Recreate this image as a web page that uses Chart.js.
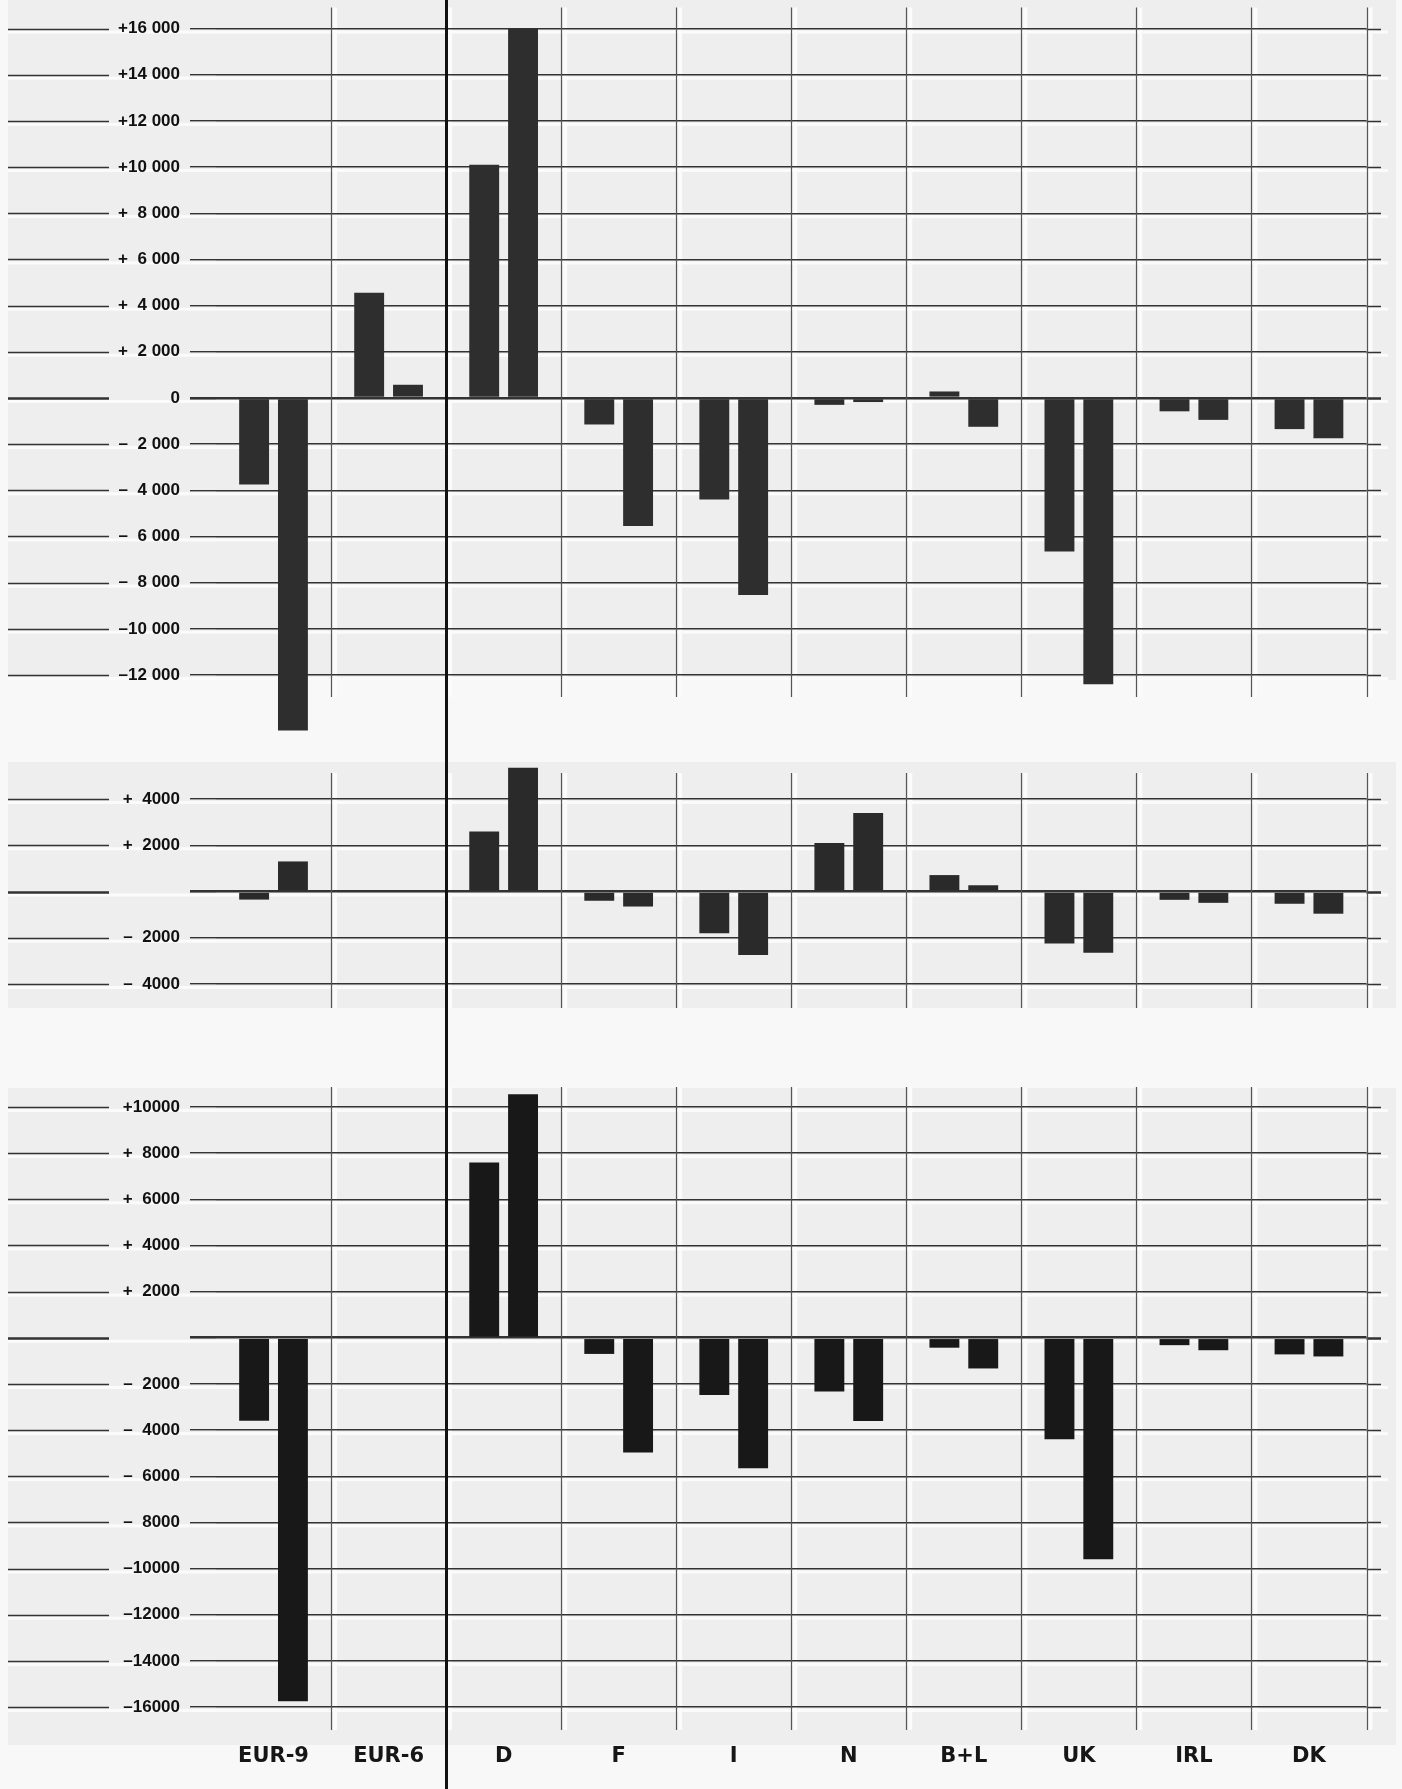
<!DOCTYPE html>
<html lang="en">
<head>
    <meta charset="UTF-8">
    <title>Balances by country</title>
    <script src="https://cdn.jsdelivr.net/npm/chart.js@4.4.1/dist/chart.umd.min.js"></script>
    <style>
        html, body { margin: 0; padding: 0; background: #f8f8f8; }
        #wrap { position: relative; width: 1402px; height: 1789px; }
        canvas { position: absolute; left: 0; }
    </style>
</head>
<body>
<div id="wrap">
    <canvas id="topChart" width="1402" height="740" style="top:0"></canvas>
    <canvas id="midChart" width="1402" height="310" style="top:740px"></canvas>
    <canvas id="botChart" width="1402" height="739" style="top:1050px"></canvas>
</div>

<script>
    // categories along the bottom
    const categories = ['EUR-9', 'EUR-6', 'D', 'F', 'I', 'N', 'B+L', 'UK', 'IRL', 'DK'];

    // top panel (two bars per country)
    const topFirst  = [-3750, 4550, 10100, -1150, -4400, -300, 280, -6650, -580, -1350];
    const topSecond = [-14400, 570, 16000, -5550, -8530, -180, -1250, -12400, -950, -1750];

    // middle panel
    const midFirst  = [-350, null, 2600, -400, -1800, 2100, 710, -2250, -360, -530];
    const midSecond = [1300, null, 5350, -650, -2750, 3400, 270, -2650, -490, -960];

    // bottom panel
    const botFirst  = [-3600, null, 7600, -700, -2480, -2330, -430, -4400, -320, -720];
    const botSecond = [-15750, null, 10550, -4970, -5650, -3610, -1330, -9600, -540, -810];

    // tick labels, top to bottom
    const topTicks = ['+16 000', '+14 000', '+12 000', '+10 000', '+  8 000', '+  6 000', '+  4 000', '+  2 000', '0',
        '–  2 000', '–  4 000', '–  6 000', '–  8 000', '–10 000', '–12 000'];
    const midTicks = ['+  4000', '+  2000', '', '–  2000', '–  4000'];
    const botTicks = ['+10000', '+  8000', '+  6000', '+  4000', '+  2000', '',
        '–  2000', '–  4000', '–  6000', '–  8000', '–10000', '–12000', '–14000', '–16000'];

    const STEP = 2000;

    // background, gridline extensions and category separators
    const framePlugin = {
        id: 'frame',
        beforeDraw(chart, args, o) {
            const { ctx, width, height } = chart;
            const x = chart.scales.x, y = chart.scales.y, area = chart.chartArea;
            ctx.save();
            ctx.fillStyle = '#f8f8f8';
            ctx.fillRect(0, 0, width, height);
            ctx.fillStyle = '#eeeeee';
            ctx.fillRect(8, o.bgTop, 1388, o.bgBottom - o.bgTop);
            // white scan streaks next to the lines
            ctx.fillStyle = '#fbfbfb';
            y.ticks.forEach((t, i) => {
                const py = y.getPixelForTick(i);
                ctx.fillRect(8, py + 2, 1380, 3);
            });
            const half = (x.getPixelForValue(1) - x.getPixelForValue(0)) / 2;
            for (let i = 1; i <= categories.length; i++) {
                const bx = x.getPixelForValue(i - 1) + half;
                ctx.fillRect(bx + 2, area.top - o.extTop, 4, area.bottom - area.top + o.extTop + o.extBottom);
            }
            ctx.restore();
        },
        beforeDatasetsDraw(chart, args, o) {
            const { ctx, height } = chart;
            const x = chart.scales.x, y = chart.scales.y, area = chart.chartArea;
            ctx.save();
            ctx.strokeStyle = '#333';
            // left stubs and right overhang of the horizontal lines
            y.ticks.forEach((t, i) => {
                const py = Math.round(y.getPixelForTick(i)) + 0.5;
                ctx.lineWidth = t.value === 0 ? 2.6 : 1.4;
                ctx.beginPath();
                ctx.moveTo(8, py); ctx.lineTo(109, py);
                ctx.moveTo(area.right, py); ctx.lineTo(1381, py);
                ctx.stroke();
            });
            // category boundaries
            const half = (x.getPixelForValue(1) - x.getPixelForValue(0)) / 2;
            for (let i = 1; i <= categories.length; i++) {
                const bx = Math.round(x.getPixelForValue(i - 1) + half) + 0.5;
                ctx.beginPath();
                if (i === 2) {
                    ctx.strokeStyle = '#111';
                    ctx.lineWidth = 3;
                    ctx.moveTo(bx, 0); ctx.lineTo(bx, height);
                } else {
                    ctx.strokeStyle = '#555';
                    ctx.lineWidth = 1.2;
                    ctx.moveTo(bx, area.top - o.extTop); ctx.lineTo(bx, area.bottom + o.extBottom);
                }
                ctx.stroke();
            }
            ctx.restore();
        }
    };

    function makeChart(id, first, second, min, max, tickLabels, barColor, frame, padding, showLabels) {
        return new Chart(document.getElementById(id), {
            type: 'bar',
            data: {
                labels: categories,
                datasets: [
                    { data: first, backgroundColor: barColor, borderWidth: 0, clip: false },
                    { data: second, backgroundColor: barColor, borderWidth: 0, clip: false }
                ]
            },
            options: {
                responsive: false,
                animation: false,
                devicePixelRatio: 1,
                layout: { padding: padding },
                datasets: { bar: { barPercentage: 0.77, categoryPercentage: 0.675 } },
                plugins: {
                    legend: { display: false },
                    tooltip: { enabled: false },
                    frame: frame
                },
                scales: {
                    x: {
                        display: showLabels,
                        afterFit(scale) { if (showLabels) scale.height = 82; },
                        grid: { display: false, drawTicks: false },
                        border: { display: false },
                        ticks: {
                            padding: 37,
                            color: '#161616',
                            font: { family: 'DejaVu Sans', weight: 'bold', size: 21 }
                        }
                    },
                    y: {
                        min: min,
                        max: max,
                        afterFit(scale) { scale.width = 216; },
                        border: { display: false },
                        grid: {
                            color: '#333',
                            lineWidth: (c) => (c.tick && c.tick.value === 0 ? 2.6 : 1.4),
                            tickLength: 26
                        },
                        ticks: {
                            stepSize: STEP,
                            autoSkip: false,
                            padding: 10,
                            color: '#111',
                            font: { family: 'Liberation Sans', weight: 'bold', size: 17 },
                            callback: (v) => tickLabels[Math.round((max - v) / STEP)]
                        }
                    }
                }
            },
            plugins: [framePlugin]
        });
    }

    makeChart('topChart', topFirst, topSecond, -12000, 16000, topTicks, '#2e2e2e',
        { bgTop: 0, bgBottom: 680, extTop: 21, extBottom: 22 },
        { top: 28.5, bottom: 65, left: 0, right: 35.5 }, false);

    makeChart('midChart', midFirst, midSecond, -4000, 4000, midTicks, '#2a2a2a',
        { bgTop: 22, bgBottom: 268, extTop: 26, extBottom: 24 },
        { top: 59, bottom: 66, left: 0, right: 35.5 }, false);

    makeChart('botChart', botFirst, botSecond, -16000, 10000, botTicks, '#181818',
        { bgTop: 38, bgBottom: 695, extTop: 20, extBottom: 23 },
        { top: 57, bottom: 0, left: 0, right: 35.5 }, true);
</script>
</body>
</html>
